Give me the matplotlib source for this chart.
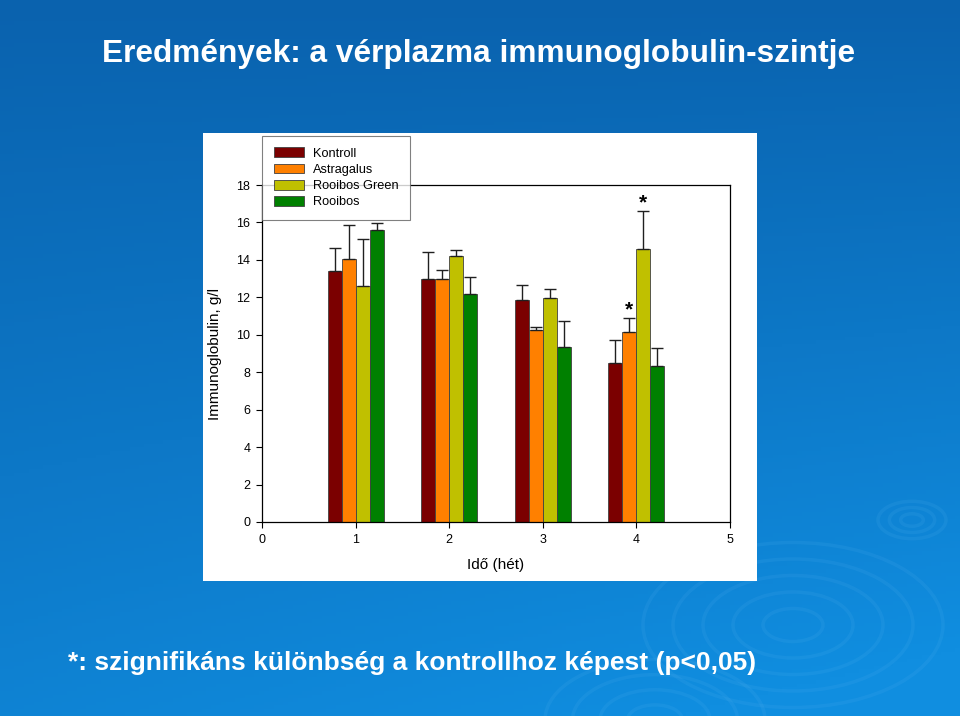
import numpy as np
import matplotlib.pyplot as plt
from matplotlib.patches import Rectangle, Ellipse

# adatok (leolvasva az abrarol)
weeks = [1, 2, 3, 4]
groups = ['Kontroll', 'Astragalus', 'Rooibos Green', 'Rooibos']
kontroll = [13.38, 12.99, 11.88, 8.47]
astragalus = [14.04, 12.99, 10.28, 10.14]
rooibos_green = [12.61, 14.21, 11.94, 14.59]
rooibos = [15.60, 12.19, 9.36, 8.35]
# felso hibahatar (atlag + SD)
kontroll_top = [14.62, 14.41, 12.67, 9.72]
astragalus_top = [15.87, 13.45, 10.43, 10.89]
rooibos_green_top = [15.10, 14.53, 12.42, 16.61]
rooibos_top = [15.96, 13.11, 10.73, 9.31]
# szignifikans: (csoport index, het)
signif = [(1, 4), (2, 4)]

colors = ['#7b0000', '#ff8000', '#c0c000', '#008000']

means = [kontroll, astragalus, rooibos_green, rooibos]
tops = [kontroll_top, astragalus_top, rooibos_green_top, rooibos_top]

fig = plt.figure(figsize=(9.6, 7.16), dpi=100)

# hatter: kek szinatmenet
bg = fig.add_axes([0, 0, 1, 1], zorder=0)
yy, xx = np.mgrid[0:1:200j, 0:1:200j]
t = np.clip(0.75 * yy + 0.35 * xx * yy, 0, 1)
c0 = np.array([0x0a, 0x62, 0xae]) / 255
c1 = np.array([0x10, 0x8e, 0xe0]) / 255
img = c0[None, None, :] * (1 - t[..., None]) + c1[None, None, :] * t[..., None]
bg.imshow(img, extent=[0, 960, 716, 0], aspect='auto')
# hullamgyuruk
for cx, cy, rmax, n in [(912, 520, 34, 3), (793, 625, 150, 5), (655, 720, 110, 4)]:
    for k in range(1, n + 1):
        r = rmax * k / n
        bg.add_patch(Ellipse((cx, cy), 2 * r, 1.1 * r, fill=False,
                             ec='#5ab4f0', lw=2.5, alpha=0.13))
bg.set_xlim(0, 960)
bg.set_ylim(716, 0)
bg.axis('off')

# feher panel
fig.patches.append(Rectangle((203 / 960, 1 - 581 / 716), 554 / 960, 448 / 716,
                             transform=fig.transFigure, fc='white', ec='none', zorder=1))

fig.text(0.498, 1 - 54 / 716, 'Eredmények: a vérplazma immunoglobulin-szintje',
         color='white', fontsize=22.8, fontweight='bold', ha='center', va='center',
         family='Liberation Sans', zorder=3)
fig.text(68 / 960, 1 - 663 / 716, '*: szignifikáns különbség a kontrollhoz képest (p<0,05)',
         color='white', fontsize=19, fontweight='bold', ha='left', va='center',
         family='Liberation Sans', zorder=3)

ax = fig.add_axes([262 / 960, 1 - 522 / 716, 468 / 960, 337 / 716], zorder=2)
ax.set_facecolor('white')

w = 0.15
x = np.array(weeks, dtype=float)
for i, (name, m, tp, c) in enumerate(zip(groups, means, tops, colors)):
    pos = x + (i - 1.5) * w
    err = np.array(tp) - np.array(m)
    ax.bar(pos, m, width=w, color=c, edgecolor='#404040', linewidth=0.6, label=name)
    ax.errorbar(pos, m, yerr=[np.zeros(len(m)), err], fmt='none', ecolor='#202020',
                elinewidth=1, capsize=4.5, capthick=1)

for gi, wk in signif:
    pos = wk + (gi - 1.5) * w
    ax.text(pos, tops[gi][weeks.index(wk)] - 0.05, '*', ha='center', va='bottom',
            fontsize=15, fontweight='bold', family='Liberation Sans')

ax.set_xlim(0, 5)
ax.set_ylim(0, 18)
ax.set_xticks(range(6))
ax.set_yticks(range(0, 19, 2))
ax.tick_params(direction='out', length=4.5, width=0.8, labelsize=9, pad=4)
for s in ax.spines.values():
    s.set_linewidth(0.9)
for lab in ax.get_xticklabels() + ax.get_yticklabels():
    lab.set_family('Liberation Sans')
ax.set_xlabel('Idő (hét)', fontsize=11, family='Liberation Sans', labelpad=9)
ax.set_ylabel('Immunoglobulin, g/l', fontsize=11, family='Liberation Sans', labelpad=10)

leg = fig.legend(loc='upper left', bbox_to_anchor=(262 / 960, 1 - 136 / 716),
                 borderaxespad=0, frameon=True, fancybox=False, edgecolor='#606060',
                 handlelength=2.4, handleheight=0.8, handletextpad=0.7,
                 borderpad=0.9, labelspacing=0.3,
                 prop={'family': 'Liberation Sans', 'size': 9.2})
leg.get_frame().set_linewidth(0.8)
leg.set_zorder(5)

fig.savefig('out.png', dpi=100)
